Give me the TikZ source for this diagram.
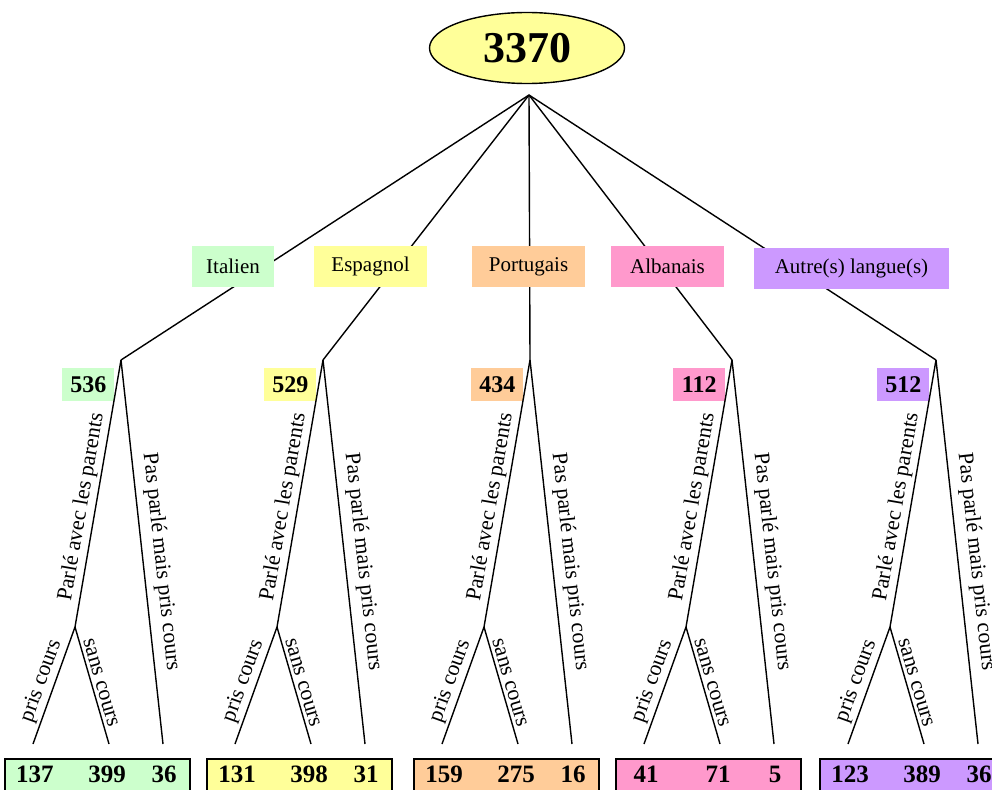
\documentclass[tikz,border=0pt]{standalone}
\usepackage{fontspec}
\setmainfont{Liberation Serif}
\usetikzlibrary{shapes.geometric,positioning}
\definecolor{vert}{HTML}{CCFFCC}
\definecolor{jaune}{HTML}{FFFF99}
\definecolor{peche}{HTML}{FFCC99}
\definecolor{rose}{HTML}{FF99CC}
\definecolor{mauve}{HTML}{CC99FF}

\begin{document}
\begin{tikzpicture}[x=1pt, y=-1pt, line width=1.4pt,
  langue/.style={fill=#1, minimum height=41pt, inner sep=0pt, font=\fontsize{21}{24}\selectfont},
  effectif/.style={fill=#1, minimum width=52pt, minimum height=33pt, inner sep=0pt, font=\fontsize{24}{26}\selectfont\bfseries},
  resultat/.style={draw, line width=1.8pt, fill=#1, minimum width=185pt, minimum height=50pt, anchor=north west, inner sep=0pt},
  chiffre/.style={inner sep=0pt, font=\fontsize{25}{27}\selectfont\bfseries},
  branche/.style={sloped, above, inner sep=3pt, font=\fontsize{22}{24}\selectfont}]

\useasboundingbox (0,0) rectangle (992,789);

\node[ellipse, draw, fill=jaune, minimum width=195pt, minimum height=71pt, inner sep=0pt,
      font=\fontsize{44}{46}\selectfont\bfseries] (total) at (527,48) {3370};
\coordinate (apex) at (529,95);

\foreach \x/\i/\col/\n/\a/\b/\c in {121/it/vert/536/137/399/36, 323/es/jaune/529/131/398/31,
    530/pt/peche/434/159/275/16, 732/al/rose/112/41/71/5, 936/au/mauve/512/123/389/36} {
  \coordinate (\i) at (\x,360);
  \coordinate (\i-p) at (\x-46,627);
  \coordinate (\i-1) at (\x-88,744);
  \coordinate (\i-2) at (\x-12,744);
  \coordinate (\i-3) at (\x+42,744);
  \node[effectif=\col, anchor=east] (\i-n) at (\x-6,384.5) {\n};
  \draw (apex) -- (\i);
  \path (\i-p) edge node[branche, pos=0.44] {Parlé avec les parents} (\i)
        (\i) edge node[branche, pos=0.53, yshift=4pt] {Pas parlé mais pris cours} (\i-3)
        (\i-1) edge node[branche] {pris cours} (\i-p)
        (\i-p) edge node[branche] {sans cours} (\i-2);
  \node[resultat=\col] (\i-r) at (\x-117,758) {};
  \node[chiffre] (\i-a) at (\x-86,774) {\a};
  \node[chiffre] (\i-b) at (\x-14,774) {\b};
  \node[chiffre] (\i-c) at (\x+43,774) {\c};
}

\node[langue=vert, minimum width=82pt]   (italien)   at (233,266.5) {Italien};
\node[langue=jaune, minimum width=113pt] (espagnol)  at (370.5,266.5) {Espagnol};
\node[langue=peche, minimum width=113pt] (portugais) at (528.5,266.5) {Portugais};
\node[langue=rose, minimum width=113pt]  (albanais)  at (667.5,266.5) {Albanais};
\node[langue=mauve, minimum width=195pt] (autre)     at (851.5,268.5) {Autre(s) langue(s)};
\end{tikzpicture}
\end{document}
